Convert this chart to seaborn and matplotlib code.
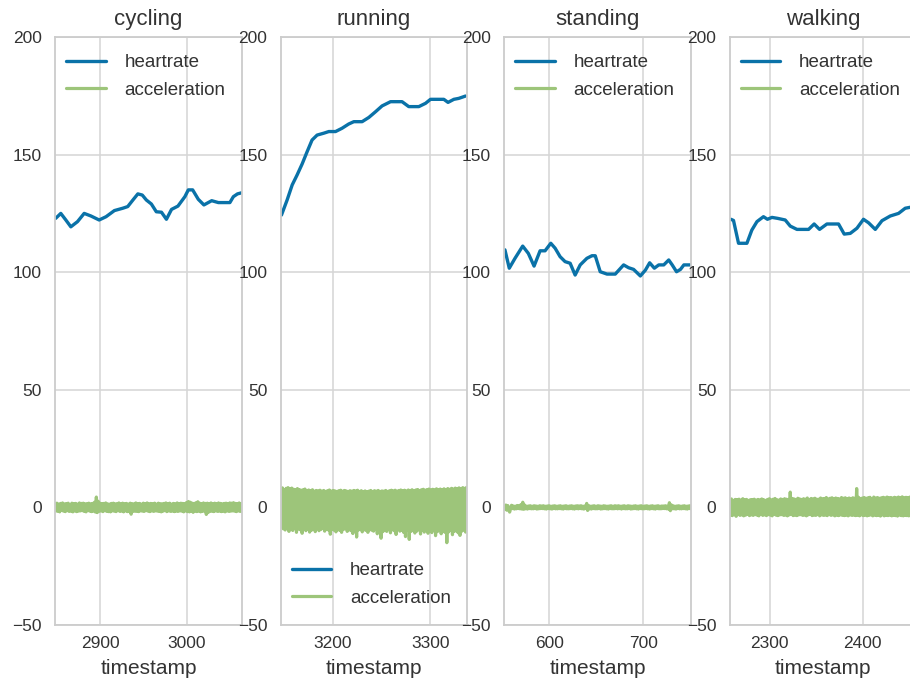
import numpy as np
import matplotlib
matplotlib.use("Agg")
import matplotlib.pyplot as plt
import seaborn as sns

# ---------------- data ----------------
activities = ["cycling", "running", "standing", "walking"]

cyc_hr_ts = [2848.8, 2854.7, 2860.5, 2866.3, 2874, 2881.7, 2889.5, 2899, 2907, 2916.6, 2926.3, 2932,
             2938, 2943.7, 2948.8, 2953.5, 2959.3, 2965, 2971, 2976.7, 2982.6, 2990, 2998, 3002, 3007,
             3013.5, 3020, 3029, 3036.7, 3050, 3054, 3058.8, 3064]
cyc_hr = [122.9, 125.0, 122.2, 119.3, 121.5, 125.0, 123.9, 122.2, 123.6, 126.2, 127.2, 127.9,
          130.7, 133.3, 132.8, 130.7, 129.0, 125.7, 125.5, 122.5, 126.7, 128.1, 132.1, 135.0, 135.0,
          131.0, 128.6, 130.4, 129.6, 129.6, 132.1, 133.3, 133.8]

run_hr_ts = [3147, 3152.8, 3158, 3163, 3168.2, 3173.3, 3178.4, 3183.6, 3190.4, 3195.6, 3202.5, 3209.2,
             3216, 3221.3, 3229.8, 3236.7, 3243.5, 3250.3, 3259, 3270.8, 3277.7, 3288, 3294.9, 3300,
             3313.7, 3318, 3324, 3329, 3336]
run_hr = [124.3, 130.7, 137.1, 141.3, 146.0, 151.2, 156.2, 158.3, 159.1, 159.8, 159.8, 161.2,
          163.0, 164.0, 164.0, 165.8, 168.2, 170.7, 172.5, 172.5, 170.4, 170.4, 171.8, 173.5,
          173.5, 172.2, 173.5, 173.9, 174.9]

std_hr_ts = [553.0, 557.6, 563.7, 571.9, 577.9, 584, 590.4, 595.7, 601.8, 606.4, 611.7, 617, 622.4,
             627.7, 633.1, 640.2, 645.6, 649.1, 654.4, 661.6, 670.4, 679.3, 684.6, 689.9, 697.1,
             702.5, 707, 712, 716.7, 722, 727.3, 731, 735.6, 739.8, 743.4, 750]
std_hr = [109.5, 101.7, 105.9, 111.1, 108.0, 102.6, 109.1, 109.1, 112.3, 110.2, 106.6, 104.5, 103.8,
          98.8, 103.1, 105.9, 107.0, 107.0, 100.2, 99.2, 99.2, 103.1, 101.9, 101.2, 98.4,
          100.9, 104.0, 101.7, 103.1, 103.1, 105.2, 103.1, 100.2, 101.2, 103.1, 103.1]

wlk_hr_ts = [2258.5, 2261.3, 2266.7, 2275.7, 2281, 2286.5, 2293.5, 2297.8, 2302.6, 2308.6, 2316.9,
             2322.3, 2329.5, 2342, 2348, 2353.8, 2361.7, 2374.2, 2380.3, 2386.8, 2394, 2401, 2406.5,
             2413.7, 2420.9, 2429.8, 2438.7, 2445.9, 2451.3, 2459]
wlk_hr = [122.5, 122.0, 112.3, 112.3, 117.9, 121.5, 123.6, 122.5, 123.3, 122.9, 122.2,
          119.6, 118.2, 118.2, 120.5, 118.2, 120.5, 120.5, 116.2, 116.5, 118.7, 122.5, 121.0,
          118.2, 121.9, 123.9, 125.0, 127.2, 127.6, 128.0]

# acceleration: evenly sampled between start and end timestamps
cyc_acc_span = (2848, 3064)
cyc_acc = [1.6, -1.5, 1.8, -1.7, 1.4, -1.9, 1.7, -1.3, 1.9, -1.6,
           1.5, -1.8, 1.6, -1.4, 1.8, -1.7, 1.3, -1.6, 1.8, -1.9,
           1.6, -1.5, 1.7, -1.8, 1.4, -1.6, 1.9, -1.5, 1.7, -1.4,
           1.8, -1.7, 1.5, -1.9, 1.6, -1.4, 1.8, -1.6, 1.5, -1.8,
           1.7, -1.6, 2.2, -2.0, 4.4, -2.2, 2.6, -1.7, 1.8, -1.5,
           1.6, -1.8, 1.7, -1.4, 1.9, -1.7, 1.5, -1.8, 1.4, -1.9,
           1.7, -1.5, 1.8, -1.6, 1.5, -1.8, 1.6, -1.4, 1.9, -1.7,
           1.5, -1.6, 1.8, -1.9, 1.6, -1.5, 1.7, -1.8, 1.4, -1.6,
           1.8, -2.9, 1.6, -1.7, 1.5, -1.6, 1.9, -1.7, 1.6, -1.8,
           1.7, -1.5, 1.4, -1.6, 1.8, -1.7, 1.6, -1.4, 1.9, -1.6,
           1.5, -1.8, 1.7, -1.5, 1.6, -1.7, 1.8, -1.5, 1.4, -1.6,
           1.8, -1.7, 1.6, -1.9, 1.5, -1.6, 1.7, -1.4, 1.9, -1.8,
           1.6, -1.5, 1.8, -1.7, 1.4, -1.6, 1.7, -1.8, 1.5, -1.6,
           1.9, -1.7, 1.6, -1.5, 1.8, -1.6, 1.7, -1.9, 1.6, -1.5,
           2.1, -1.8, 2.5, -1.9, 2.2, -1.7, 1.8, -2.1, 1.7, -1.6,
           2.0, -1.8, 2.4, -1.6, 1.8, -1.9, 1.6, -1.7, 1.9, -1.5,
           1.7, -3.0, 1.8, -2.2, 1.6, -1.7, 1.9, -1.6, 1.5, -1.8,
           1.8, -1.5, 1.6, -1.7, 1.9, -1.6, 1.7, -1.8, 1.5, -1.6,
           1.7, -1.9, 1.8, -1.5, 1.6, -1.7, 1.9, -1.6, 1.8, -1.5,
           2.0, -1.6, 1.7, -1.8, 1.6, -1.5, 1.9, -1.7, 1.6, -1.6]

run_acc_span = (3146, 3338)
run_acc = [7.8, -8.2, 8.3, -9.1, 7.6, -9.6, 8.1, -8.8, 8.4, -10.2,
           7.9, -9.3, 8.2, -9.8, 7.7, -8.9, 7.5, -10.6, 8.0, -9.2,
           7.6, -9.5, 7.3, -11.0, 7.5, -9.0, 7.8, -9.9, 7.2, -9.4,
           7.4, -10.5, 7.1, -9.7, 7.5, -9.1, 6.9, -10.3, 7.2, -8.8,
           7.0, -9.9, 7.3, -9.4, 6.9, -9.0, 7.2, -10.1, 6.8, -9.3,
           7.1, -9.6, 7.4, -11.4, 6.9, -9.2, 7.2, -9.7, 7.0, -10.4,
           6.8, -9.1, 7.1, -9.8, 7.3, -10.6, 6.9, -9.4, 7.2, -9.0,
           7.0, -10.2, 6.8, -9.5, 7.1, -9.9, 6.9, -11.1, 7.2, -9.3,
           7.0, -12.6, 7.3, -9.6, 6.8, -9.1, 7.1, -10.4, 6.7, -9.5,
           7.0, -9.8, 6.6, -10.6, 6.9, -9.2, 7.2, -9.7, 6.8, -10.1,
           7.1, -9.4, 6.9, -11.2, 7.2, -10.0, 6.8, -13.1, 7.0, -10.3,
           6.9, -9.6, 7.2, -10.2, 6.8, -9.3, 7.1, -10.8, 7.3, -9.5,
           7.0, -9.9, 7.3, -11.5, 6.9, -9.4, 7.2, -10.1, 7.4, -9.7,
           7.1, -10.6, 7.3, -12.4, 7.0, -9.8, 7.4, -13.6, 7.2, -10.2,
           7.5, -9.6, 7.1, -10.9, 7.4, -10.1, 7.6, -9.5, 7.2, -11.3,
           7.5, -9.8, 7.7, -10.5, 7.3, -9.4, 7.6, -11.0, 7.8, -9.9,
           7.4, -10.7, 7.7, -9.6, 7.5, -12.0, 7.9, -10.3, 7.6, -9.8,
           7.8, -11.2, 7.5, -10.0, 7.9, -10.6, 7.6, -15.0, 8.0, -10.4,
           7.7, -9.7, 8.1, -11.6, 7.8, -10.2, 8.2, -9.9, 7.9, -10.8,
           8.3, -11.9, 8.0, -10.1, 8.4, -9.6, 8.1, -10.5, 8.5, -9.8]

std_acc_span = (552, 751)
std_acc = [0.5, -0.8, 1.0, -1.2, 0.8, -0.7, -2.0, -0.6, 0.9, -0.5,
           0.6, -0.7, 0.5, -0.6, 0.8, -0.5, 0.7, -0.6, 1.2, -0.7,
           2.2, -0.8, 1.0, -0.6, 0.5, -0.7, 0.6, -0.5, 0.7, -0.6,
           0.5, -0.6, 0.7, -0.5, 0.6, -0.7, 0.5, -0.6, 0.7, -0.5,
           0.6, -0.5, 0.7, -0.6, 0.5, -0.7, 0.6, -0.5, 0.7, -0.6,
           0.5, -0.7, 0.6, -0.5, 0.7, -0.6, 0.5, -0.6, 0.6, -0.5,
           0.7, -0.6, 0.5, -0.7, 0.6, -0.5, 0.7, -0.6, 0.5, -0.6,
           0.6, -0.5, 0.7, -0.6, 0.5, -0.7, 0.6, -0.5, 0.7, -0.6,
           0.6, -0.5, 0.7, -0.6, 0.5, -0.7, 0.6, -0.5, 1.7, -1.3,
           0.8, -0.6, 0.5, -0.7, 0.6, -0.5, 0.7, -0.6, 0.5, -0.6,
           0.7, -0.5, 0.6, -0.7, 0.5, -0.6, 0.7, -0.5, 0.6, -0.6,
           0.5, -0.7, 0.6, -0.5, 0.7, -0.6, 0.5, -0.6, 0.7, -0.5,
           0.6, -0.6, 0.7, -0.5, 0.5, -0.7, 0.6, -0.5, 0.7, -0.6,
           0.5, -0.6, 0.7, -0.5, 0.6, -0.7, 0.5, -0.6, 0.6, -0.5,
           0.7, -0.6, 0.5, -0.7, 0.6, -0.5, 0.7, -0.6, 0.5, -0.6,
           0.6, -0.5, 0.7, -0.6, 0.5, -0.7, 0.6, -0.5, 0.7, -0.6,
           0.5, -0.7, 0.6, -0.5, 0.7, -0.6, 0.5, -0.6, 0.6, -0.5,
           0.6, -0.5, 0.7, -0.6, 0.5, -0.7, 2.0, -1.4, 1.1, -0.6,
           0.7, -0.6, 0.5, -0.7, 0.6, -0.5, 0.7, -0.6, 0.5, -0.6,
           0.6, -0.5, 0.7, -0.6, 0.5, -0.7, 0.6, -0.5, 0.7, -0.6]

wlk_acc_span = (2257, 2460)
wlk_acc = [3.2, -3.3, 3.6, -3.5, 3.0, -3.1, 3.4, -3.8, 3.3, -3.0,
           3.5, -3.4, 3.1, -3.2, 3.7, -3.6, 3.2, -3.3, 3.4, -2.9,
           3.0, -3.5, 3.3, -3.2, 3.3, -3.4, 3.5, -3.1, 3.1, -3.3,
           3.4, -3.6, 3.2, -3.0, 3.6, -3.4, 3.3, -3.2, 3.0, -3.5,
           3.4, -3.1, 3.7, -3.3, 3.2, -3.6, 3.5, -3.0, 3.8, -3.3,
           3.3, -3.5, 3.1, -3.2, 3.6, -3.1, 3.4, -3.4, 3.7, -3.3,
           3.5, -3.6, 3.4, -3.2, 6.5, -3.0, 3.8, -3.5, 3.6, -3.3,
           3.4, -3.5, 3.9, -3.2, 3.6, -3.1, 3.4, -3.4, 3.7, -3.3,
           3.5, -3.6, 4.0, -3.2, 3.4, -3.0, 3.8, -3.5, 3.6, -3.3,
           3.9, -3.4, 3.5, -3.1, 3.5, -3.6, 4.0, -3.2, 3.7, -3.4,
           3.8, -3.3, 4.2, -3.5, 3.6, -3.1, 3.9, -3.4, 4.1, -3.2,
           3.7, -3.6, 4.0, -3.3, 3.8, -3.5, 3.6, -3.2, 4.2, -3.4,
           3.9, -3.5, 4.1, -3.3, 3.7, -3.6, 4.0, -3.2, 3.8, -3.4,
           4.1, -3.3, 3.9, -3.5, 8.0, -3.4, 4.3, -3.6, 3.8, -3.2,
           4.0, -3.5, 4.2, -3.3, 3.9, -3.6, 4.1, -3.4, 4.3, -3.2,
           3.8, -3.6, 4.4, -3.3, 4.0, -3.5, 4.2, -3.4, 3.9, -3.7,
           4.1, -3.2, 4.3, -3.6, 4.0, -3.4, 4.4, -3.5, 4.1, -3.3,
           4.2, -3.6, 4.0, -3.4, 4.3, -3.5, 4.1, -3.7, 4.4, -3.3,
           4.2, -3.5, 4.5, -3.6, 4.1, -3.4, 4.3, -3.5, 4.2, -3.6,
           4.4, -3.4, 4.1, -3.7, 4.3, -3.5, 4.2, -3.4, 4.4, -3.6]

xlims = [(2848, 3064), (3146, 3338), (552, 751), (2257, 2458)]
xticks = [[2900, 3000], [3200, 3300], [600, 700], [2300, 2400]]
yticks = [-50, 0, 50, 100, 150, 200]
legend_locs = ["upper left", "lower left", "upper left", "upper left"]
legend_anchors = [(-0.01, 0.993), (-0.01, 0.009), (-0.01, 0.993), (-0.01, 0.993)]

hr_sets = [(cyc_hr_ts, cyc_hr), (run_hr_ts, run_hr), (std_hr_ts, std_hr), (wlk_hr_ts, wlk_hr)]
acc_sets = [(cyc_acc_span, cyc_acc), (run_acc_span, run_acc), (std_acc_span, std_acc), (wlk_acc_span, wlk_acc)]

# ---------------- style ----------------
sns.set_style("whitegrid", {"axes.edgecolor": "#cccccc", "grid.color": "#d5d5d5",
                            "xtick.bottom": False, "ytick.left": False})
plt.rcParams["font.family"] = ["Liberation Sans", "DejaVu Sans"]
plt.rcParams["text.color"] = "#333333"
plt.rcParams["axes.labelcolor"] = "#333333"
plt.rcParams["xtick.color"] = "#333333"
plt.rcParams["ytick.color"] = "#333333"

blue = "#0a72a8"
green = "#9dc57a"

W, H = 910, 687
fig = plt.figure(figsize=(W / 100, H / 100), dpi=100)
lefts = [55, 280.5, 504, 729.5]
ax_w, ax_h, ax_b = 187, 588, 62

for i, name in enumerate(activities):
    ax = fig.add_axes([lefts[i] / W, ax_b / H, ax_w / W, ax_h / H])
    hx, hy = hr_sets[i]
    (a0, a1), avals = acc_sets[i]
    ax_ts = np.linspace(a0, a1, len(avals))
    sns.lineplot(x=hx, y=hy, ax=ax, color=blue, linewidth=2.4, label="heartrate", estimator=None)
    sns.lineplot(x=ax_ts, y=avals, ax=ax, color=green, linewidth=2.3, label="acceleration", estimator=None)
    ax.set_xlim(*xlims[i])
    ax.set_ylim(-50, 200)
    ax.set_xticks(xticks[i])
    ax.set_yticks(yticks)
    ax.tick_params(axis="both", labelsize=12.5, length=0)
    ax.tick_params(axis="y", pad=9.5)
    ax.tick_params(axis="x", pad=8)
    ax.set_title(name, fontsize=16, pad=8.5)
    ax.set_xlabel("timestamp", fontsize=15, labelpad=6)
    ax.set_ylabel("")
    for sp in ax.spines.values():
        sp.set_color("#cccccc")
        sp.set_linewidth(1.3)
    ax.grid(True, color="#d5d5d5", linewidth=1.1)
    ax.legend(loc=legend_locs[i], bbox_to_anchor=legend_anchors[i], frameon=False,
              fontsize=13.5, handlelength=2.1, handletextpad=1.0, borderaxespad=0.3,
              labelspacing=0.55)

fig.savefig("out.png", dpi=100)
